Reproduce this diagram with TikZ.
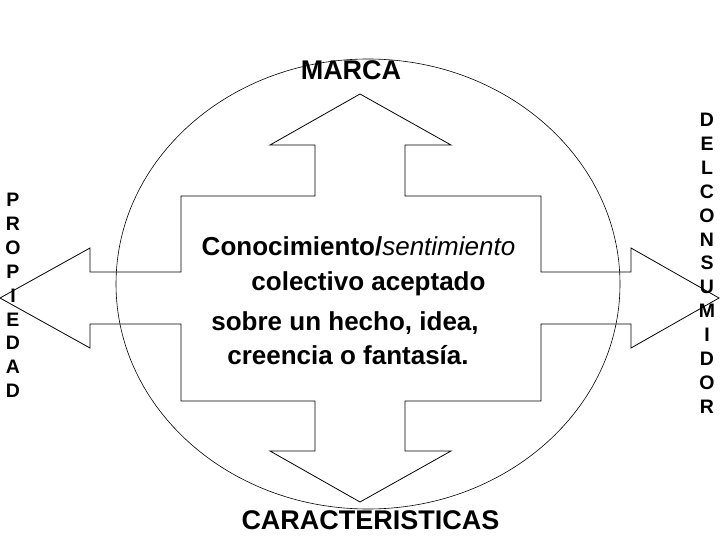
\documentclass[tikz,border=0pt]{standalone}
\usepackage{fontspec}
\setmainfont{Liberation Sans}
\begin{document}
\begin{tikzpicture}[x=1pt,y=-1pt,line join=miter,
  outl/.style={draw=black,line width=0.8pt},
  bigtxt/.style={anchor=base,inner sep=0pt,font=\fontsize{26}{30}\selectfont\bfseries},
  vlet/.style={anchor=base,inner sep=0pt,font=\fontsize{19.5}{24}\selectfont\bfseries}]
\useasboundingbox (0,0) rectangle (720,540);
% ellipse
\draw[line width=0.6pt] (368,284) ellipse [x radius=252pt, y radius=225pt];
% four-way arrow
\draw[outl] (360,94) -- (451,145) -- (405,145) -- (405,196) -- (541,196) -- (541,272)
  -- (631,272) -- (631,248) -- (719,298) -- (631,348) -- (631,324) -- (541,324)
  -- (541,401) -- (405,401) -- (405,451) -- (451,451) -- (360,502) -- (270,451)
  -- (315,451) -- (315,401) -- (181,401) -- (181,324) -- (90,324) -- (90,348)
  -- (0,298) -- (90,248) -- (90,272) -- (181,272) -- (181,196) -- (315,196)
  -- (315,145) -- (270,145) -- cycle;
% labels
\node[bigtxt,font=\fontsize{27}{30}\selectfont\bfseries] (marca) at (351,80) {MARCA};
\node[bigtxt,font=\fontsize{27}{30}\selectfont\bfseries] (carac) at (370.5,529) {CARACTERISTICAS};
\node[bigtxt] (l1) at (358.5,255) {Conocimiento/\mdseries\itshape sentimiento};
\node[bigtxt] (l2) at (368.5,290) {colectivo aceptado};
\node[bigtxt] (l3) at (345,330) {sobre un hecho, idea,};
\node[bigtxt] (l4) at (348,364) {creencia o fantasía.};
% vertical words
\foreach \c [count=\i from 0] in {P,R,O,P,I,E,D,A,D}
  \node[vlet] (pl\i) at (13,207+23.8*\i) {\c};
\foreach \c [count=\i from 0] in {D,E,L,C,O,N,S,U,M,I,D,O,R}
  \node[vlet] (cr\i) at (707,126.5+23.9*\i) {\c};
\end{tikzpicture}
\end{document}
